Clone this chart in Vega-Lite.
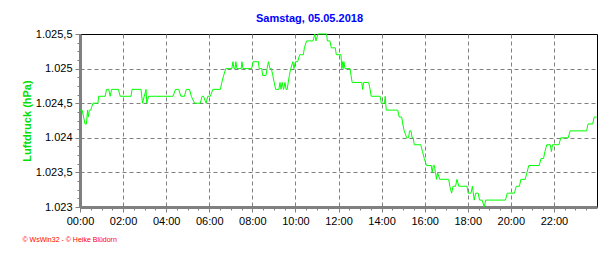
{
  "$schema": "https://vega.github.io/schema/vega-lite/v6.json",
  "width": 517,
  "height": 173,
  "autosize": {"type": "none"},
  "padding": {"left": 80, "top": 34, "right": 19, "bottom": 46},
  "background": "white",
  "title": {
    "text": "Samstag, 05.05.2018",
    "color": "#0000ff",
    "font": "Liberation Sans",
    "fontSize": 11,
    "fontWeight": "bold",
    "anchor": "middle",
    "frame": "group",
    "dx": -29,
    "baseline": "alphabetic",
    "offset": -5
  },
  "config": {
    "view": {"stroke": "black", "strokeWidth": 1},
    "font": "Liberation Sans"
  },
  "data": {
    "values": [
      {"t": "2018-05-05T00:00", "p": 1024.4},
      {"t": "2018-05-05T00:06", "p": 1024.4},
      {"t": "2018-05-05T00:10", "p": 1024.3},
      {"t": "2018-05-05T00:14", "p": 1024.2},
      {"t": "2018-05-05T00:18", "p": 1024.2},
      {"t": "2018-05-05T00:21", "p": 1024.4},
      {"t": "2018-05-05T00:23", "p": 1024.3},
      {"t": "2018-05-05T00:26", "p": 1024.4},
      {"t": "2018-05-05T00:30", "p": 1024.4},
      {"t": "2018-05-05T00:36", "p": 1024.5},
      {"t": "2018-05-05T00:50", "p": 1024.5},
      {"t": "2018-05-05T00:52", "p": 1024.6},
      {"t": "2018-05-05T01:10", "p": 1024.6},
      {"t": "2018-05-05T01:14", "p": 1024.7},
      {"t": "2018-05-05T01:20", "p": 1024.7},
      {"t": "2018-05-05T01:24", "p": 1024.6},
      {"t": "2018-05-05T01:28", "p": 1024.7},
      {"t": "2018-05-05T01:47", "p": 1024.7},
      {"t": "2018-05-05T01:52", "p": 1024.6},
      {"t": "2018-05-05T02:22", "p": 1024.6},
      {"t": "2018-05-05T02:25", "p": 1024.7},
      {"t": "2018-05-05T02:50", "p": 1024.7},
      {"t": "2018-05-05T02:54", "p": 1024.5},
      {"t": "2018-05-05T02:59", "p": 1024.6},
      {"t": "2018-05-05T03:04", "p": 1024.7},
      {"t": "2018-05-05T03:06", "p": 1024.5},
      {"t": "2018-05-05T03:11", "p": 1024.6},
      {"t": "2018-05-05T04:19", "p": 1024.6},
      {"t": "2018-05-05T04:26", "p": 1024.7},
      {"t": "2018-05-05T04:35", "p": 1024.7},
      {"t": "2018-05-05T04:41", "p": 1024.6},
      {"t": "2018-05-05T04:51", "p": 1024.6},
      {"t": "2018-05-05T04:56", "p": 1024.7},
      {"t": "2018-05-05T05:05", "p": 1024.7},
      {"t": "2018-05-05T05:10", "p": 1024.6},
      {"t": "2018-05-05T05:19", "p": 1024.5},
      {"t": "2018-05-05T05:35", "p": 1024.5},
      {"t": "2018-05-05T05:40", "p": 1024.6},
      {"t": "2018-05-05T05:44", "p": 1024.6},
      {"t": "2018-05-05T05:51", "p": 1024.5},
      {"t": "2018-05-05T05:56", "p": 1024.6},
      {"t": "2018-05-05T06:03", "p": 1024.6},
      {"t": "2018-05-05T06:10", "p": 1024.7},
      {"t": "2018-05-05T06:31", "p": 1024.7},
      {"t": "2018-05-05T06:35", "p": 1024.8},
      {"t": "2018-05-05T06:40", "p": 1024.9},
      {"t": "2018-05-05T06:46", "p": 1025.0},
      {"t": "2018-05-05T07:03", "p": 1025.0},
      {"t": "2018-05-05T07:06", "p": 1025.1},
      {"t": "2018-05-05T07:09", "p": 1025.0},
      {"t": "2018-05-05T07:12", "p": 1025.0},
      {"t": "2018-05-05T07:14", "p": 1025.1},
      {"t": "2018-05-05T07:17", "p": 1025.0},
      {"t": "2018-05-05T07:29", "p": 1025.0},
      {"t": "2018-05-05T07:31", "p": 1025.1},
      {"t": "2018-05-05T07:34", "p": 1025.0},
      {"t": "2018-05-05T07:58", "p": 1025.0},
      {"t": "2018-05-05T08:02", "p": 1025.1},
      {"t": "2018-05-05T08:17", "p": 1025.1},
      {"t": "2018-05-05T08:19", "p": 1025.0},
      {"t": "2018-05-05T08:26", "p": 1025.0},
      {"t": "2018-05-05T08:29", "p": 1024.9},
      {"t": "2018-05-05T08:38", "p": 1024.9},
      {"t": "2018-05-05T08:41", "p": 1025.0},
      {"t": "2018-05-05T08:45", "p": 1025.1},
      {"t": "2018-05-05T08:49", "p": 1025.0},
      {"t": "2018-05-05T08:53", "p": 1025.0},
      {"t": "2018-05-05T08:57", "p": 1024.9},
      {"t": "2018-05-05T09:01", "p": 1024.8},
      {"t": "2018-05-05T09:05", "p": 1024.7},
      {"t": "2018-05-05T09:14", "p": 1024.7},
      {"t": "2018-05-05T09:17", "p": 1024.8},
      {"t": "2018-05-05T09:20", "p": 1024.7},
      {"t": "2018-05-05T09:23", "p": 1024.8},
      {"t": "2018-05-05T09:27", "p": 1024.7},
      {"t": "2018-05-05T09:31", "p": 1024.8},
      {"t": "2018-05-05T09:34", "p": 1024.7},
      {"t": "2018-05-05T09:37", "p": 1024.7},
      {"t": "2018-05-05T09:40", "p": 1024.8},
      {"t": "2018-05-05T09:43", "p": 1024.9},
      {"t": "2018-05-05T09:47", "p": 1025.0},
      {"t": "2018-05-05T09:53", "p": 1025.1},
      {"t": "2018-05-05T09:56", "p": 1025.0},
      {"t": "2018-05-05T10:00", "p": 1025.1},
      {"t": "2018-05-05T10:06", "p": 1025.1},
      {"t": "2018-05-05T10:12", "p": 1025.2},
      {"t": "2018-05-05T10:22", "p": 1025.2},
      {"t": "2018-05-05T10:25", "p": 1025.3},
      {"t": "2018-05-05T10:31", "p": 1025.4},
      {"t": "2018-05-05T10:49", "p": 1025.4},
      {"t": "2018-05-05T10:54", "p": 1025.5},
      {"t": "2018-05-05T10:57", "p": 1025.4},
      {"t": "2018-05-05T11:03", "p": 1025.5},
      {"t": "2018-05-05T11:27", "p": 1025.5},
      {"t": "2018-05-05T11:29", "p": 1025.4},
      {"t": "2018-05-05T11:36", "p": 1025.4},
      {"t": "2018-05-05T11:40", "p": 1025.3},
      {"t": "2018-05-05T11:51", "p": 1025.3},
      {"t": "2018-05-05T11:54", "p": 1025.2},
      {"t": "2018-05-05T12:07", "p": 1025.2},
      {"t": "2018-05-05T12:09", "p": 1025.0},
      {"t": "2018-05-05T12:11", "p": 1025.1},
      {"t": "2018-05-05T12:13", "p": 1025.0},
      {"t": "2018-05-05T12:15", "p": 1025.1},
      {"t": "2018-05-05T12:18", "p": 1025.0},
      {"t": "2018-05-05T12:32", "p": 1025.0},
      {"t": "2018-05-05T12:35", "p": 1024.9},
      {"t": "2018-05-05T12:38", "p": 1024.8},
      {"t": "2018-05-05T13:05", "p": 1024.8},
      {"t": "2018-05-05T13:07", "p": 1024.7},
      {"t": "2018-05-05T13:10", "p": 1024.8},
      {"t": "2018-05-05T13:24", "p": 1024.8},
      {"t": "2018-05-05T13:28", "p": 1024.7},
      {"t": "2018-05-05T13:31", "p": 1024.6},
      {"t": "2018-05-05T13:56", "p": 1024.6},
      {"t": "2018-05-05T13:59", "p": 1024.5},
      {"t": "2018-05-05T14:08", "p": 1024.5},
      {"t": "2018-05-05T14:10", "p": 1024.6},
      {"t": "2018-05-05T14:13", "p": 1024.4},
      {"t": "2018-05-05T14:45", "p": 1024.4},
      {"t": "2018-05-05T14:49", "p": 1024.3},
      {"t": "2018-05-05T14:56", "p": 1024.3},
      {"t": "2018-05-05T14:59", "p": 1024.2},
      {"t": "2018-05-05T15:03", "p": 1024.1},
      {"t": "2018-05-05T15:10", "p": 1024.0},
      {"t": "2018-05-05T15:15", "p": 1024.0},
      {"t": "2018-05-05T15:18", "p": 1024.1},
      {"t": "2018-05-05T15:22", "p": 1024.1},
      {"t": "2018-05-05T15:25", "p": 1024.0},
      {"t": "2018-05-05T15:28", "p": 1024.0},
      {"t": "2018-05-05T15:31", "p": 1023.9},
      {"t": "2018-05-05T15:49", "p": 1023.9},
      {"t": "2018-05-05T15:54", "p": 1023.8},
      {"t": "2018-05-05T15:59", "p": 1023.7},
      {"t": "2018-05-05T16:05", "p": 1023.6},
      {"t": "2018-05-05T16:18", "p": 1023.6},
      {"t": "2018-05-05T16:21", "p": 1023.5},
      {"t": "2018-05-05T16:24", "p": 1023.6},
      {"t": "2018-05-05T16:27", "p": 1023.6},
      {"t": "2018-05-05T16:30", "p": 1023.5},
      {"t": "2018-05-05T16:33", "p": 1023.4},
      {"t": "2018-05-05T16:36", "p": 1023.5},
      {"t": "2018-05-05T16:42", "p": 1023.4},
      {"t": "2018-05-05T17:07", "p": 1023.4},
      {"t": "2018-05-05T17:10", "p": 1023.3},
      {"t": "2018-05-05T17:15", "p": 1023.2},
      {"t": "2018-05-05T17:19", "p": 1023.3},
      {"t": "2018-05-05T17:26", "p": 1023.3},
      {"t": "2018-05-05T17:30", "p": 1023.4},
      {"t": "2018-05-05T17:35", "p": 1023.3},
      {"t": "2018-05-05T17:58", "p": 1023.3},
      {"t": "2018-05-05T18:01", "p": 1023.2},
      {"t": "2018-05-05T18:09", "p": 1023.2},
      {"t": "2018-05-05T18:13", "p": 1023.3},
      {"t": "2018-05-05T18:18", "p": 1023.1},
      {"t": "2018-05-05T18:22", "p": 1023.2},
      {"t": "2018-05-05T18:29", "p": 1023.2},
      {"t": "2018-05-05T18:33", "p": 1023.1},
      {"t": "2018-05-05T18:40", "p": 1023.1},
      {"t": "2018-05-05T18:46", "p": 1023.0},
      {"t": "2018-05-05T18:50", "p": 1023.1},
      {"t": "2018-05-05T19:45", "p": 1023.1},
      {"t": "2018-05-05T19:50", "p": 1023.2},
      {"t": "2018-05-05T20:10", "p": 1023.2},
      {"t": "2018-05-05T20:15", "p": 1023.3},
      {"t": "2018-05-05T20:24", "p": 1023.3},
      {"t": "2018-05-05T20:28", "p": 1023.4},
      {"t": "2018-05-05T20:40", "p": 1023.4},
      {"t": "2018-05-05T20:45", "p": 1023.5},
      {"t": "2018-05-05T20:50", "p": 1023.6},
      {"t": "2018-05-05T21:19", "p": 1023.6},
      {"t": "2018-05-05T21:24", "p": 1023.7},
      {"t": "2018-05-05T21:31", "p": 1023.7},
      {"t": "2018-05-05T21:35", "p": 1023.8},
      {"t": "2018-05-05T21:40", "p": 1023.9},
      {"t": "2018-05-05T21:50", "p": 1023.9},
      {"t": "2018-05-05T21:53", "p": 1023.8},
      {"t": "2018-05-05T21:56", "p": 1023.9},
      {"t": "2018-05-05T22:14", "p": 1023.9},
      {"t": "2018-05-05T22:19", "p": 1024.0},
      {"t": "2018-05-05T22:40", "p": 1024.0},
      {"t": "2018-05-05T22:45", "p": 1024.1},
      {"t": "2018-05-05T23:31", "p": 1024.1},
      {"t": "2018-05-05T23:35", "p": 1024.2},
      {"t": "2018-05-05T23:48", "p": 1024.2},
      {"t": "2018-05-05T23:52", "p": 1024.3},
      {"t": "2018-05-05T23:59", "p": 1024.3}
    ]
  },
  "resolve": {"axis": {"x": "independent", "y": "independent"}},
  "layer": [
    {
      "mark": {"type": "line", "opacity": 0},
      "encoding": {
        "x": {
          "field": "t",
          "type": "temporal",
          "scale": {
            "domain": [
              {"year": 2018, "month": 5, "date": 5, "hours": 0},
              {"year": 2018, "month": 5, "date": 6, "hours": 0}
            ],
            "nice": false
          },
          "axis": {
            "orient": "bottom",
            "values": [
              {"year": 2018, "month": 5, "date": 5, "hours": 0, "minutes": 30},
              {"year": 2018, "month": 5, "date": 5, "hours": 1, "minutes": 0},
              {"year": 2018, "month": 5, "date": 5, "hours": 1, "minutes": 30},
              {"year": 2018, "month": 5, "date": 5, "hours": 2, "minutes": 30},
              {"year": 2018, "month": 5, "date": 5, "hours": 3, "minutes": 0},
              {"year": 2018, "month": 5, "date": 5, "hours": 3, "minutes": 30},
              {"year": 2018, "month": 5, "date": 5, "hours": 4, "minutes": 30},
              {"year": 2018, "month": 5, "date": 5, "hours": 5, "minutes": 0},
              {"year": 2018, "month": 5, "date": 5, "hours": 5, "minutes": 30},
              {"year": 2018, "month": 5, "date": 5, "hours": 6, "minutes": 30},
              {"year": 2018, "month": 5, "date": 5, "hours": 7, "minutes": 0},
              {"year": 2018, "month": 5, "date": 5, "hours": 7, "minutes": 30},
              {"year": 2018, "month": 5, "date": 5, "hours": 8, "minutes": 30},
              {"year": 2018, "month": 5, "date": 5, "hours": 9, "minutes": 0},
              {"year": 2018, "month": 5, "date": 5, "hours": 9, "minutes": 30},
              {"year": 2018, "month": 5, "date": 5, "hours": 10, "minutes": 30},
              {"year": 2018, "month": 5, "date": 5, "hours": 11, "minutes": 0},
              {"year": 2018, "month": 5, "date": 5, "hours": 11, "minutes": 30},
              {"year": 2018, "month": 5, "date": 5, "hours": 12, "minutes": 30},
              {"year": 2018, "month": 5, "date": 5, "hours": 13, "minutes": 0},
              {"year": 2018, "month": 5, "date": 5, "hours": 13, "minutes": 30},
              {"year": 2018, "month": 5, "date": 5, "hours": 14, "minutes": 30},
              {"year": 2018, "month": 5, "date": 5, "hours": 15, "minutes": 0},
              {"year": 2018, "month": 5, "date": 5, "hours": 15, "minutes": 30},
              {"year": 2018, "month": 5, "date": 5, "hours": 16, "minutes": 30},
              {"year": 2018, "month": 5, "date": 5, "hours": 17, "minutes": 0},
              {"year": 2018, "month": 5, "date": 5, "hours": 17, "minutes": 30},
              {"year": 2018, "month": 5, "date": 5, "hours": 18, "minutes": 30},
              {"year": 2018, "month": 5, "date": 5, "hours": 19, "minutes": 0},
              {"year": 2018, "month": 5, "date": 5, "hours": 19, "minutes": 30},
              {"year": 2018, "month": 5, "date": 5, "hours": 20, "minutes": 30},
              {"year": 2018, "month": 5, "date": 5, "hours": 21, "minutes": 0},
              {"year": 2018, "month": 5, "date": 5, "hours": 21, "minutes": 30},
              {"year": 2018, "month": 5, "date": 5, "hours": 22, "minutes": 30},
              {"year": 2018, "month": 5, "date": 5, "hours": 23, "minutes": 0},
              {"year": 2018, "month": 5, "date": 5, "hours": 23, "minutes": 30}
            ],
            "labels": false,
            "domain": false,
            "grid": false,
            "tickColor": "#808080",
            "tickWidth": 1,
            "tickSize": 3,
            "title": null
          }
        },
        "y": {
          "field": "p",
          "type": "quantitative",
          "scale": {"domain": [1023, 1025.5], "nice": false, "zero": false},
          "axis": {
            "orient": "left",
            "values": [1023.125, 1023.25, 1023.375, 1023.625, 1023.75, 1023.875, 1024.125, 1024.25, 1024.375, 1024.625, 1024.75, 1024.875, 1025.125, 1025.25, 1025.375],
            "labels": false,
            "domain": false,
            "grid": false,
            "tickColor": "#808080",
            "tickWidth": 1,
            "tickSize": 3,
            "title": null
          }
        }
      }
    },
    {
      "mark": {"type": "line", "opacity": 0},
      "encoding": {
        "x": {"field": "t", "type": "temporal", "axis": null},
        "y": {
          "field": "p",
          "type": "quantitative",
          "axis": {
            "orient": "left",
            "values": [1023.5, 1024, 1024.5, 1025],
            "labels": false,
            "domain": false,
            "ticks": false,
            "grid": true,
            "gridColor": "#808080",
            "gridDash": [4, 3],
            "gridWidth": 1,
            "title": null
          }
        }
      }
    },
    {
      "mark": {"type": "line", "color": "#00ff00", "strokeWidth": 1, "interpolate": "linear"},
      "encoding": {
        "x": {
          "field": "t",
          "type": "temporal",
          "axis": {
            "orient": "bottom",
            "values": [
              {"year": 2018, "month": 5, "date": 5, "hours": 0},
              {"year": 2018, "month": 5, "date": 5, "hours": 2},
              {"year": 2018, "month": 5, "date": 5, "hours": 4},
              {"year": 2018, "month": 5, "date": 5, "hours": 6},
              {"year": 2018, "month": 5, "date": 5, "hours": 8},
              {"year": 2018, "month": 5, "date": 5, "hours": 10},
              {"year": 2018, "month": 5, "date": 5, "hours": 12},
              {"year": 2018, "month": 5, "date": 5, "hours": 14},
              {"year": 2018, "month": 5, "date": 5, "hours": 16},
              {"year": 2018, "month": 5, "date": 5, "hours": 18},
              {"year": 2018, "month": 5, "date": 5, "hours": 20},
              {"year": 2018, "month": 5, "date": 5, "hours": 22}
            ],
            "format": "%H:%M",
            "labelFont": "Liberation Sans",
            "labelFontSize": 11,
            "labelColor": "black",
            "labelPadding": 3,
            "labelFlush": false,
            "labelOverlap": false,
            "domainColor": "#808080",
            "domainWidth": 3,
            "tickColor": "#808080",
            "tickWidth": 1,
            "tickSize": 5,
            "grid": true,
            "gridColor": "#808080",
            "gridDash": [4, 3],
            "gridWidth": 1,
            "title": "© WsWin32 - © Heike Blüdorn",
            "titleColor": "#ff0000",
            "titleFont": "Liberation Sans",
            "titleFontSize": 7,
            "titleFontWeight": "normal",
            "titleAlign": "left",
            "titleBaseline": "alphabetic",
            "titleX": -58,
            "titleY": 34
          }
        },
        "y": {
          "field": "p",
          "type": "quantitative",
          "axis": {
            "orient": "left",
            "values": [1023, 1023.5, 1024, 1024.5, 1025, 1025.5],
            "labelExpr": "'1.' + format(floor(datum.value) - 1000, '03d') + (datum.value % 1 > 0 ? ',5' : '')",
            "labelFont": "Liberation Sans",
            "labelFontSize": 11,
            "labelColor": "black",
            "labelPadding": 3,
            "labelFlush": false,
            "labelOverlap": false,
            "domainColor": "#808080",
            "domainWidth": 3,
            "tickColor": "#808080",
            "tickWidth": 1,
            "tickSize": 5,
            "grid": false,
            "title": "Luftdruck (hPa)",
            "titleColor": "#00e000",
            "titleFont": "Liberation Sans",
            "titleFontSize": 11,
            "titleFontWeight": "bold",
            "titleAngle": -90,
            "titleAlign": "center",
            "titleBaseline": "middle",
            "titleX": -53,
            "titleY": 86.5
          }
        }
      }
    }
  ]
}
